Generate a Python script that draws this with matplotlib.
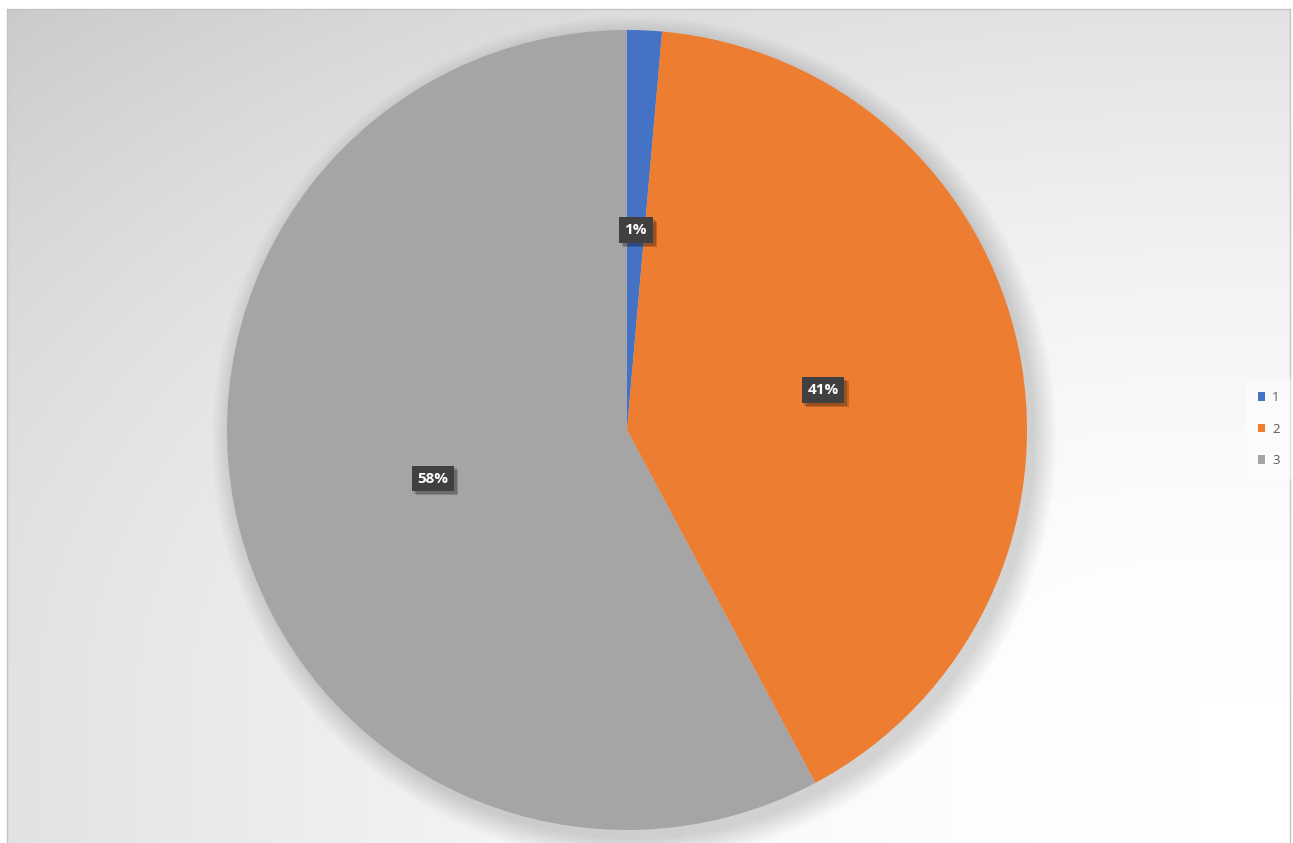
import numpy as np
import matplotlib
matplotlib.use("Agg")
import matplotlib.pyplot as plt
import matplotlib.patheffects as pe
from matplotlib.patches import Circle

plt.rcParams['font.family'] = ['Open Sans', 'DejaVu Sans']

# data
labels = ['1', '2', '3']
values = [1.4, 40.8, 57.8]
colors = ['#4472C4', '#ED7D31', '#A5A5A5']

W, H = 1293, 843
fig = plt.figure(figsize=(W / 100, H / 100), dpi=100)
fig.patch.set_facecolor('white')

# chart area with radial gradient background (light at lower right)
bg = fig.add_axes([7 / W, 0, (1290 - 7) / W, (H - 9) / H])
ny, nx = 300, 460
xx, yy = np.meshgrid(np.linspace(7, 1290, nx), np.linspace(9, H, ny))
u = np.clip((1200 - xx) / 1200, 0, None)
v = np.clip((700 - yy) / 700, 0, None)
g = 1 - 0.115 * (u ** 2 + v ** 2) ** 0.85
g = np.clip(g, 0, 1)
bg.imshow(np.dstack([g, g, g]), extent=(0, 1, 0, 1), aspect='auto', origin='upper')
bg.set_xticks([])
bg.set_yticks([])
for s in ['left', 'top', 'right']:
    bg.spines[s].set_color('#c4c4c4')
    bg.spines[s].set_linewidth(1)
bg.spines['bottom'].set_visible(False)

# pie with soft shadow
ax = fig.add_axes([227 / W, 13 / H, 800 / W, 800 / H])
for i in range(20):
    ax.add_patch(Circle((0.018, -0.022), 1 + 0.003 * i, color='black',
                        alpha=0.009, zorder=0, clip_on=False, lw=0))
wedges, texts, autotexts = ax.pie(values, colors=colors, startangle=90,
                                  counterclock=False, autopct='%1.0f%%',
                                  pctdistance=0.5,
                                  wedgeprops=dict(linewidth=0),
                                  textprops=dict(color='white', fontsize=11,
                                                 fontweight='bold'))
for w in wedges:
    w.set_zorder(2)
for t in autotexts:
    t.set_zorder(5)
    t.set_bbox(dict(boxstyle='square,pad=0.38', fc='#404040', ec='none'))
    t.get_bbox_patch().set_path_effects(
        [pe.SimplePatchShadow(offset=(3, -3), shadow_rgbFace='black', alpha=0.18),
         pe.SimplePatchShadow(offset=(2, -2), shadow_rgbFace='black', alpha=0.2),
         pe.Normal()])
ax.set_xlim(-1, 1)
ax.set_ylim(-1, 1)
ax.set_aspect('equal')
ax.axis('off')

leg = fig.legend(wedges, labels, loc='center left',
                 bbox_to_anchor=(1243 / W, 1 - 429 / H),
                 frameon=True, fontsize=9.5, handlelength=0.6, handleheight=0.6,
                 handletextpad=0.5, labelspacing=1.4, borderpad=0.6)
leg.get_frame().set_facecolor('white')
leg.get_frame().set_alpha(0.45)
leg.get_frame().set_edgecolor('none')
leg.get_frame().set_boxstyle('square')
for t in leg.get_texts():
    t.set_color('#595959')

fig.savefig('out.png', dpi=100)
